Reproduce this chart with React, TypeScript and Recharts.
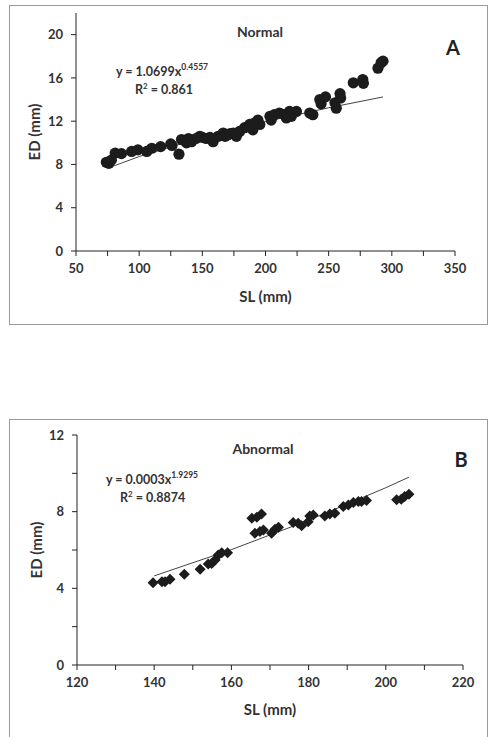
import React from 'react';
import { ScatterChart, Scatter, XAxis, YAxis } from 'recharts';

// Panel A (Normal): SL (mm) vs ED (mm)
const normalSL = [
  74, 76, 78, 81, 86, 94, 99, 106, 110, 117, 125, 126, 131.5, 133.5, 137.5, 139, 141.5, 145, 148, 150, 153,
  156, 158.5, 162.5, 166.5, 168, 170.5, 172, 174.5, 177, 179.5, 183.5, 187.5, 190, 191.5, 194, 195.5,
  203.5, 204.5, 207, 211, 215, 216.5, 219, 220.5, 224.5, 235, 237.5, 243, 244, 247.5, 255, 256, 259, 259.5,
  269.5, 277, 277.5, 289, 291.5, 293,
];
const normalED = [
  8.2, 8.1, 8.4, 9.05, 9.0, 9.2, 9.35, 9.2, 9.5, 9.65, 9.9, 9.75, 8.95, 10.3, 10.0, 10.4, 10.1, 10.4, 10.6, 10.5, 10.4,
  10.5, 10.1, 10.6, 10.9, 10.6, 10.75, 10.85, 10.9, 10.6, 11.05, 11.4, 11.7, 11.2, 11.85, 12.1, 11.7,
  12.45, 12.1, 12.6, 12.75, 12.6, 12.3, 12.9, 12.45, 12.9, 12.75, 12.6, 14.0, 13.6, 14.25, 13.7, 13.2, 14.55, 14.15,
  15.55, 15.85, 15.5, 16.9, 17.4, 17.55,
];
const normalTrendSL = [75, 100, 150, 200, 250, 293];
const normalTrendED = [7.65, 8.73, 10.5, 11.96, 13.24, 14.24];

// Panel B (Abnormal)
const abnormalSL = [
  139.7, 142, 142.8, 144.1, 147.8, 151.9, 154, 154.9, 155.8, 156.6, 157.5, 159,
  165.3, 166.6, 167.8, 166.1, 167.4, 168.3, 170.4, 171.3, 172.2, 176, 177.3, 178.2, 179.9, 180.3, 181.2,
  184.2, 185.5, 186.8, 189, 190.3, 191.6, 192.9, 193.7, 195, 202.8, 204, 204.9, 206,
];
const abnormalED = [
  4.29, 4.34, 4.34, 4.47, 4.73, 4.99, 5.27, 5.3, 5.48, 5.74, 5.86, 5.86,
  7.66, 7.71, 7.88, 6.87, 6.96, 7.05, 6.87, 7.08, 7.19, 7.43, 7.4, 7.26, 7.48, 7.78, 7.83,
  7.78, 7.88, 7.92, 8.27, 8.35, 8.48, 8.53, 8.53, 8.58, 8.62, 8.65, 8.79, 8.91,
];
const abnormalTrendSL = [140, 160, 180, 200, 206];
const abnormalTrendED = [4.65, 6.02, 7.55, 9.25, 9.8];

const ticksA_X = [50, 75, 100, 125, 150, 175, 200, 225, 250, 275, 300, 325, 350];
const ticksA_Y = [0, 4, 8, 12, 16, 20];
const ticksB_X = [120, 130, 140, 150, 160, 170, 180, 190, 200, 210, 220];
const ticksB_Y = [0, 2, 4, 6, 8, 10, 12];

const zip = (xs: number[], ys: number[]) => xs.map((x, i) => ({ x, y: ys[i] }));

const FONT = 'Lato, "Open Sans", sans-serif';
const tickStyle = { fill: '#333', fontSize: 13, fontFamily: FONT, fontWeight: 700 };
const axisLine = { stroke: '#222', strokeWidth: 1 };

const Dot = (p: any) => <circle cx={p.cx} cy={p.cy} r={5.6} fill="#1c1c1c" />;
const Diamond = (p: any) => {
  const r = 5.5;
  return (
    <polygon
      points={`${p.cx},${p.cy - r} ${p.cx + r},${p.cy} ${p.cx},${p.cy + r} ${p.cx - r},${p.cy}`}
      fill="#1c1c1c"
    />
  );
};
const NoDot = () => <g />;

function axisTitleX(text: string, dy: number) {
  return (props: any) => {
    const vb = props.viewBox;
    return (
      <text x={vb.x + vb.width / 2} y={vb.y + dy} textAnchor="middle" fill="#333"
        style={{ fontFamily: FONT, fontWeight: 700, fontSize: 15 }}>
        {text}
      </text>
    );
  };
}
function axisTitleY(text: string, cx: number, cy: number) {
  return () => (
    <text x={cx} y={cy} textAnchor="middle" fill="#333" transform={`rotate(-90 ${cx} ${cy})`}
      dy="0.35em" style={{ fontFamily: FONT, fontWeight: 700, fontSize: 15 }}>
      {text}
    </text>
  );
}

const boxStyle: React.CSSProperties = {
  position: 'absolute',
  left: 9,
  width: 479,
  border: '1.5px solid #9a9a9a',
  boxSizing: 'border-box',
};

export default function App() {
  const normal = zip(normalSL, normalED);
  const normalTrend = zip(normalTrendSL, normalTrendED);
  const abnormal = zip(abnormalSL, abnormalED);
  const abnormalTrend = zip(abnormalTrendSL, abnormalTrendED);

  return (
    <div style={{ position: 'absolute', left: 0, top: 0, width: 491, height: 737, overflow: 'hidden', background: '#fff' }}>
      <div style={{ ...boxStyle, top: 5, height: 320 }} />
      <div style={{ ...boxStyle, top: 419, height: 340 }} />

      {/* Panel A */}
      <div style={{ position: 'absolute', left: 0, top: 0 }}>
        <ScatterChart width={491} height={330} margin={{ top: 13, right: 36, left: 36, bottom: 49 }}>
          <XAxis type="number" dataKey="x" domain={[50, 350]} ticks={ticksA_X}
            tickFormatter={(v) => (v % 50 === 0 ? String(v) : '')}
            tick={tickStyle} tickSize={5} tickMargin={8} axisLine={axisLine} tickLine={axisLine} height={30}
            label={{ content: axisTitleX('SL (mm)', 51) }} />
          <YAxis type="number" dataKey="y" domain={[0, 22]} ticks={ticksA_Y}
            tick={tickStyle} tickSize={5} tickMargin={8} axisLine={axisLine} tickLine={axisLine} width={40}
            label={{ content: axisTitleY('ED (mm)', 35, 132) }} />
          <Scatter data={normalTrend} shape={NoDot} line={{ stroke: '#444', strokeWidth: 1 }} lineType="joint" isAnimationActive={false} />
          <Scatter data={normal} shape={Dot} isAnimationActive={false} />
        </ScatterChart>
      </div>

      {/* Panel B */}
      <div style={{ position: 'absolute', left: 0, top: 390 }}>
        <ScatterChart width={491} height={347} margin={{ top: 45, right: 28, left: 37, bottom: 42 }}>
          <XAxis type="number" dataKey="x" domain={[120, 220]} ticks={ticksB_X}
            tickFormatter={(v) => (v % 20 === 0 ? String(v) : '')}
            tick={tickStyle} tickSize={5} tickMargin={8} axisLine={axisLine} tickLine={axisLine} height={30}
            label={{ content: axisTitleX('SL (mm)', 50) }} />
          <YAxis type="number" dataKey="y" domain={[0, 12]} ticks={ticksB_Y}
            tickFormatter={(v) => (v % 4 === 0 ? String(v) : '')}
            tick={tickStyle} tickSize={5} tickMargin={8} axisLine={axisLine} tickLine={axisLine} width={40}
            label={{ content: axisTitleY('ED (mm)', 37, 160) }} />
          <Scatter data={abnormalTrend} shape={NoDot} line={{ stroke: '#444', strokeWidth: 1 }} lineType="joint" isAnimationActive={false} />
          <Scatter data={abnormal} shape={Diamond} isAnimationActive={false} />
        </ScatterChart>
      </div>

      {/* annotations */}
      <svg width={491} height={737} style={{ position: 'absolute', left: 0, top: 0, pointerEvents: 'none' }}>
        <g fill="#333" style={{ fontFamily: FONT, fontWeight: 700 }}>
          <text x={260} y={37} textAnchor="middle" fontSize={14}>Normal</text>
          <text x={453} y={55} textAnchor="middle" fontSize={20} fill="#222">A</text>
          <text x={116} y={76} fontSize={12.5}>y = 1.0699x<tspan fontSize={8.5} dy={-6}>0.4557</tspan></text>
          <text x={135} y={94} fontSize={12.5}>R<tspan fontSize={8} dy={-5}>2</tspan><tspan dy={5}> = 0.861</tspan></text>

          <text x={263} y={454} textAnchor="middle" fontSize={14}>Abnormal</text>
          <text x={461} y={467} textAnchor="middle" fontSize={20} fill="#222">B</text>
          <text x={106} y={484} fontSize={12.5}>y = 0.0003x<tspan fontSize={8.5} dy={-6}>1.9295</tspan></text>
          <text x={120} y={502} fontSize={12.5}>R<tspan fontSize={8} dy={-5}>2</tspan><tspan dy={5}> = 0.8874</tspan></text>
        </g>
      </svg>
    </div>
  );
}
